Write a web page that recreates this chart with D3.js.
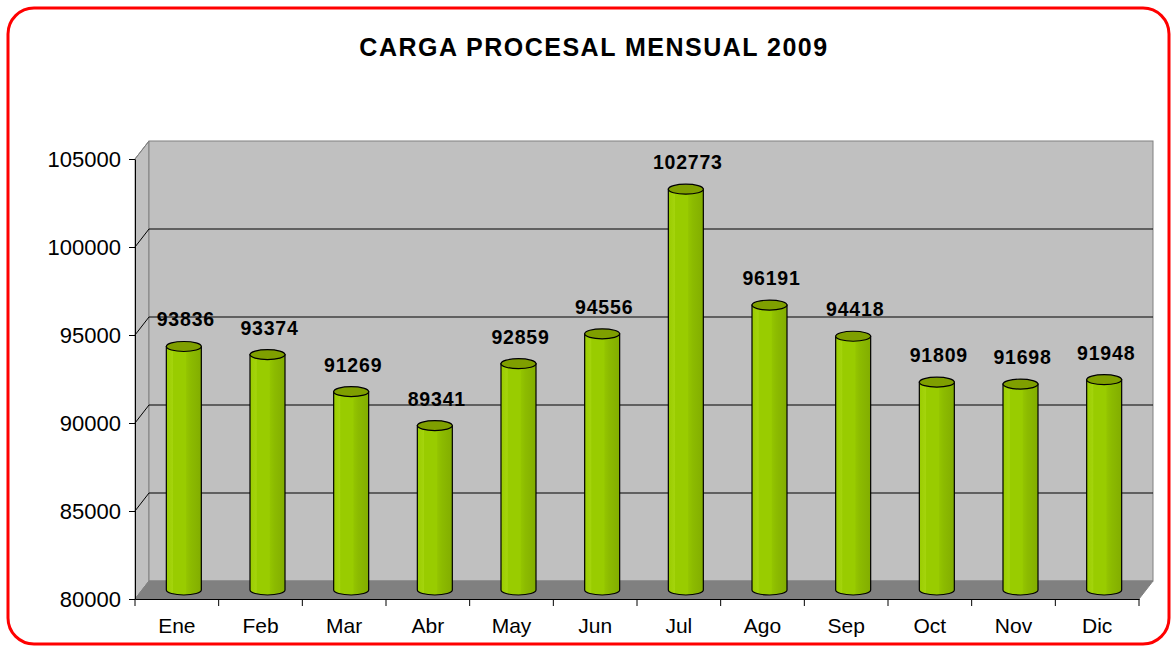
<!DOCTYPE html>
<html>
<head>
<meta charset="utf-8">
<script src="https://cdn.jsdelivr.net/npm/d3@7"></script>
<style>
  body { margin: 0; background: #fff; }
  text { font-family: Arial, "Liberation Sans", sans-serif; }
</style>
</head>
<body>
<div id="chart"></div>
<script>
const months = ["Ene", "Feb", "Mar", "Abr", "May", "Jun", "Jul", "Ago", "Sep", "Oct", "Nov", "Dic"];
const carga = [93836, 93374, 91269, 89341, 92859, 94556, 102773, 96191, 94418, 91809, 91698, 91948];
const yTicks = [80000, 85000, 90000, 95000, 100000, 105000];

const width = 1174, height = 646;
const depthX = 14, depthY = -18; // 3d offset of the back wall

const svg = d3.select("#chart").append("svg")
    .attr("width", width)
    .attr("height", height);

// red rounded frame
svg.append("rect")
    .attr("x", 8).attr("y", 8)
    .attr("width", 1161).attr("height", 636)
    .attr("rx", 26).attr("ry", 26)
    .style("fill", "#fff")
    .style("stroke", "#ff0000")
    .style("stroke-width", 3);

svg.append("text")
    .attr("x", 594).attr("y", 56)
    .attr("text-anchor", "middle")
    .style("font-size", "25px")
    .style("font-weight", "bold")
    .style("letter-spacing", "1.5px")
    .text("CARGA PROCESAL MENSUAL 2009");

const x = d3.scaleBand()
    .domain(months)
    .range([135, 1139])
    .padding(0);

const y = d3.scaleLinear()
    .domain([80000, 105000])
    .range([599, 159]);

const x0 = x.range()[0], x1 = x.range()[1];
const yTop = y(105000), yBot = y(80000);

// side wall (left)
svg.append("path")
    .attr("d", `M${x0},${yBot} L${x0},${yTop} L${x0 + depthX},${yTop + depthY} L${x0 + depthX},${yBot + depthY} Z`)
    .style("fill", "#c0c0c0")
    .style("stroke", "#808080");

// back wall
svg.append("rect")
    .attr("x", x0 + depthX).attr("y", yTop + depthY)
    .attr("width", x1 - x0).attr("height", yBot - yTop)
    .style("fill", "#c0c0c0")
    .style("stroke", "#808080");

// floor
svg.append("path")
    .attr("d", `M${x0},${yBot} L${x0 + depthX},${yBot + depthY} L${x1 + depthX},${yBot + depthY} L${x1},${yBot} Z`)
    .style("fill", "#808080")
    .style("stroke", "#808080");

// gridlines on the back wall and side wall
const grid = yTicks.filter(d => d > 80000 && d < 105000);
svg.selectAll("grid-back")
    .data(grid)
    .enter()
    .append("line")
    .attr("x1", x0 + depthX).attr("x2", x1 + depthX)
    .attr("y1", d => y(d) + depthY).attr("y2", d => y(d) + depthY)
    .style("stroke", "#000")
    .style("stroke-width", 1);
svg.selectAll("grid-side")
    .data(yTicks.filter(d => d > 80000))
    .enter()
    .append("line")
    .attr("x1", x0).attr("x2", x0 + depthX)
    .attr("y1", d => y(d)).attr("y2", d => y(d) + depthY)
    .style("stroke", d => d == 105000 ? "#808080" : "#000")
    .style("stroke-width", 1);

// axes
const yAxis = svg.append("g")
    .attr("transform", "translate(" + x0 + ",0)")
    .call(d3.axisLeft(y).tickValues(yTicks).tickSize(6).tickSizeOuter(0).tickFormat(d3.format("d")));
yAxis.select(".domain").style("stroke", "#000");
yAxis.selectAll("text").style("font-size", "22px").style("fill", "#000").attr("x", -14).attr("dy", "0.35em");

const xAxis = svg.append("g")
    .attr("transform", "translate(0," + yBot + ")")
    .call(d3.axisBottom(x).tickSize(0).tickSizeOuter(0));
xAxis.selectAll("text").style("font-size", "21px").style("fill", "#000").attr("y", 27).attr("dy", "0.35em");
xAxis.selectAll("boundary-ticks")
    .data(months.concat(["end"]))
    .enter()
    .append("line")
    .attr("x1", (d, i) => x0 + i * x.bandwidth())
    .attr("x2", (d, i) => x0 + i * x.bandwidth())
    .attr("y1", 0).attr("y2", 7)
    .style("stroke", "#000");

// cylinder shading
const defs = svg.append("defs");
const grad = defs.append("linearGradient").attr("id", "cyl").attr("x1", "0%").attr("x2", "100%");
[[0, "#9acc00"], [0.18, "#a4d40c"], [0.2, "#99cc00"], [0.55, "#99cc00"], [0.58, "#93c400"], [0.7, "#8cbb00"], [1, "#82ad00"]]
    .forEach(s => grad.append("stop").attr("offset", s[0]).attr("stop-color", s[1]));

const barW = 35, ry = 5;
const bars = svg.append("g")
    .selectAll("cylinder")
    .data(carga)
    .enter()
    .append("g");

function cx(i) { return x(months[i]) + x.bandwidth() / 2 + depthX / 2; }

bars.append("path")
    .attr("d", function (d, i) {
        const l = cx(i) - barW / 2, r = cx(i) + barW / 2;
        const top = y(d) + depthY / 2, bot = yBot + depthY / 2;
        return `M${l},${top} L${l},${bot} A${barW / 2},${ry} 0 0 0 ${r},${bot} L${r},${top} Z`;
    })
    .style("fill", "url(#cyl)")
    .style("stroke", "#000")
    .style("stroke-width", 1.2);

bars.append("ellipse")
    .attr("cx", (d, i) => cx(i))
    .attr("cy", d => y(d) + depthY / 2)
    .attr("rx", barW / 2)
    .attr("ry", ry)
    .style("fill", "#7f9f00")
    .style("stroke", "#000")
    .style("stroke-width", 1.2);

bars.append("text")
    .attr("x", (d, i) => cx(i) + 2)
    .attr("y", d => y(d) + depthY / 2 - 20)
    .attr("text-anchor", "middle")
    .style("font-size", "19.5px")
    .style("font-weight", "bold")
    .style("letter-spacing", "0.8px")
    .text(d => d);
</script>
</body>
</html>
